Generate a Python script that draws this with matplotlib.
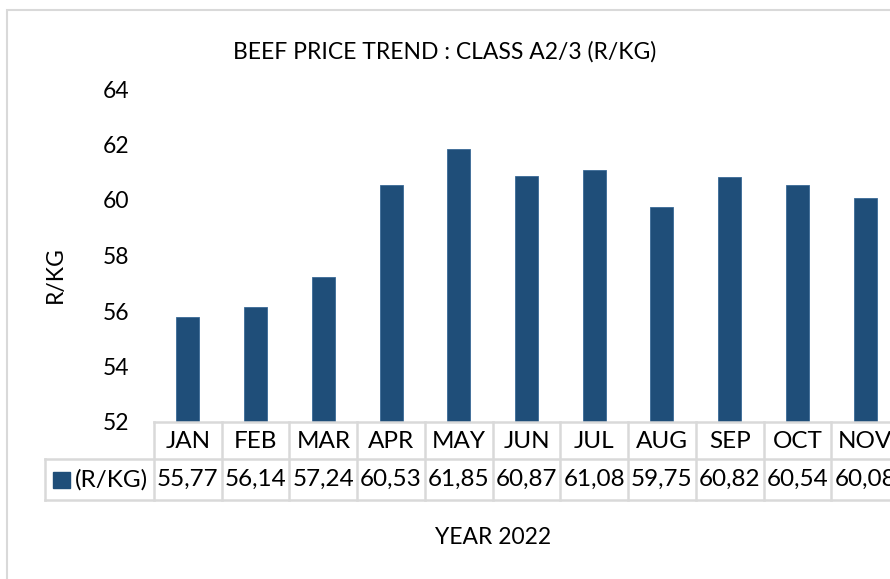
import matplotlib
matplotlib.use('Agg')
import matplotlib.pyplot as plt
from matplotlib.transforms import blended_transform_factory
from matplotlib.patches import Rectangle
from matplotlib.lines import Line2D

# ---- data ----
months = ["JAN", "FEB", "MAR", "APR", "MAY", "JUN", "JUL", "AUG", "SEP", "OCT", "NOV"]
values = [55.77, 56.14, 57.24, 60.53, 61.85, 60.87, 61.08, 59.75, 60.82, 60.54, 60.08]
y_ticks = [52, 54, 56, 58, 60, 62, 64]
series_name = "(R/KG)"
title = "BEEF PRICE TREND : CLASS A2/3 (R/KG)"
y_label = "R/KG"
x_label = "YEAR 2022"

plt.rcParams['font.family'] = ['Lato', 'DejaVu Sans']

W, H = 890, 579
fig = plt.figure(figsize=(W / 100, H / 100), dpi=100)
fig.patch.set_facecolor('white')


def fx(px):
    return px / W


def fy(py):
    return (H - py) / H


BAR = '#1F4E79'
GRID = '#D9D9D9'
TXT = '#000000'

# chart border
fig.add_artist(Rectangle((fx(7), fy(600)), 1.2, fy(10) - fy(600), transform=fig.transFigure,
                         fill=False, edgecolor=GRID, linewidth=1.5))

ax = fig.add_axes([fx(154), fy(422), fx(899) - fx(154), fy(89) - fy(422)])
x = list(range(len(months)))
ax.bar(x, values, width=0.34, color=BAR, edgecolor='#3A6A96', linewidth=0.6)
ax.set_xlim(-0.5, len(months) - 0.5)
ax.set_ylim(y_ticks[0], y_ticks[-1])
ax.set_yticks(y_ticks)
ax.set_yticklabels([str(t) for t in y_ticks])
ax.tick_params(axis='y', length=0, pad=18, labelsize=16.5, labelcolor=TXT)
ax.set_xticks([])
for s in ax.spines.values():
    s.set_visible(False)
ax.patch.set_alpha(0)

# title and axis labels
fig.text(fx(445), fy(52), title, ha='center', va='center', fontsize=16.5, color=TXT)
fig.text(fx(55), fy(275), y_label, rotation=90, ha='center', va='center', fontsize=16.5, color=TXT)
fig.text(fx(493), fy(538), x_label, ha='center', va='center', fontsize=16.5, color=TXT)

# data table
tr = blended_transform_factory(ax.transData, fig.transFigure)
y_top, y_mid, y_bot = 422, 459, 500
for yy, x0 in [(y_top, 154), (y_mid, 45), (y_bot, 45)]:
    fig.add_artist(Line2D([fx(x0), 1.05], [fy(yy), fy(yy)], transform=fig.transFigure,
                          color=GRID, linewidth=1.8))
fig.add_artist(Line2D([fx(45), fx(45)], [fy(y_mid), fy(y_bot)], transform=fig.transFigure,
                      color=GRID, linewidth=1.8))
for i in range(len(months) + 1):
    fig.add_artist(Line2D([i - 0.5, i - 0.5], [fy(y_top), fy(y_bot)], transform=tr,
                          color=GRID, linewidth=1.8))

for i, (m, v) in enumerate(zip(months, values)):
    fig.text(i, fy((y_top + y_mid) / 2 + 1), m, transform=tr, ha='center', va='center',
             fontsize=17.5, color=TXT)
    fig.text(i, fy((y_mid + y_bot) / 2), f"{v:.2f}".replace('.', ','), transform=tr,
             ha='center', va='center', fontsize=17.5, color=TXT)

# legend key in table
fig.add_artist(Rectangle((fx(53), fy(488)), fx(70) - fx(53), fy(472) - fy(488),
                         transform=fig.transFigure, color=BAR))
fig.text(fx(75), fy((y_mid + y_bot) / 2), series_name, ha='left', va='center',
         fontsize=17.5, color=TXT)

fig.savefig('out.png', dpi=100)
